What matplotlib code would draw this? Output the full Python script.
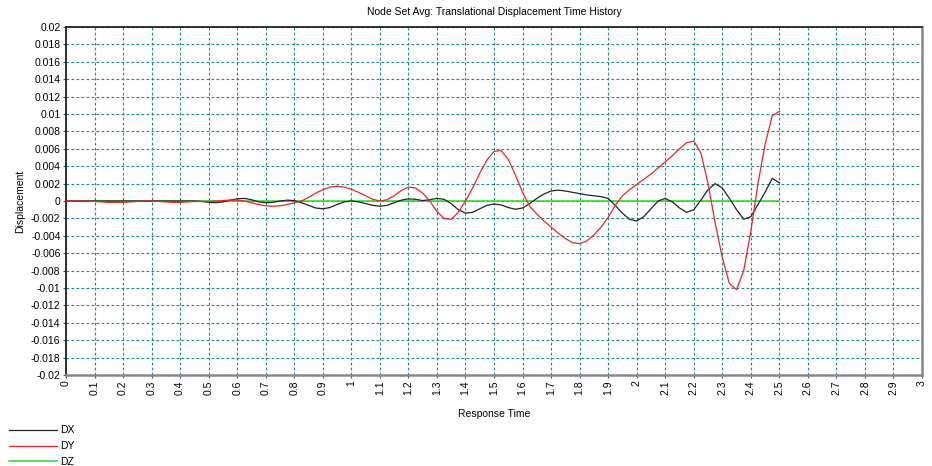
import matplotlib
matplotlib.use('Agg')
import matplotlib.pyplot as plt
import numpy as np

plt.rcParams['font.family'] = ['Liberation Sans', 'DejaVu Sans']

# time samples (s)
t = np.arange(0, 101) * 0.025

# displacement values in 1e-3 units
dx = np.array([
    0, 0, 0, 0, 0, 0, 0, 0, 0, 0,
    0, 0, 0, 0, 0, 0, 0, 0, 0, -0.05,
    -0.15, -0.2, -0.1, 0.1, 0.25, 0.3, 0.15, -0.1, -0.2, -0.15,
    0, 0.1, 0.05, -0.2, -0.5, -0.8, -0.9, -0.75, -0.4, -0.1,
    0.0, -0.1, -0.3, -0.5, -0.6, -0.5, -0.2, 0.1, 0.25, 0.2,
    0.05, 0.15, 0.3, 0.2, -0.3, -1.0, -1.4, -1.3, -0.9, -0.5,
    -0.35, -0.45, -0.75, -0.95, -0.8, -0.3, 0.3, 0.8, 1.15, 1.25,
    1.15, 1.0, 0.85, 0.7, 0.6, 0.5, 0.3, -0.5, -1.4, -2.1,
    -2.3, -1.8, -0.9, 0.0, 0.3, -0.1, -0.8, -1.3, -1.0, 0.1,
    1.3, 2.0, 1.5, 0.3, -1.0, -2.1, -1.8, -0.4, 1.0, 2.6,
    2.1]) * 1e-3

dy = np.array([
    0, 0, 0, 0, -0.05, -0.1, -0.15, -0.15, -0.15, -0.1,
    -0.05, 0, 0, -0.05, -0.1, -0.15, -0.15, -0.1, -0.05, -0.05,
    -0.05, 0, 0.05, 0.1, 0.1, 0, -0.2, -0.4, -0.55, -0.6,
    -0.55, -0.4, -0.2, 0, 0.4, 0.9, 1.3, 1.6, 1.7, 1.6,
    1.35, 1.0, 0.6, 0.2, 0.0, 0.15, 0.6, 1.2, 1.6, 1.5,
    0.9, 0.0, -1.2, -2.0, -2.1, -1.3, 0.0, 1.5, 3.2, 4.7,
    5.7, 5.8, 4.8, 3.0, 1.0, -0.6, -1.5, -2.3, -3.0, -3.7,
    -4.3, -4.8, -4.9, -4.6, -3.9, -3.0, -1.9, -0.5, 0.6, 1.3,
    1.9, 2.5, 3.1, 3.8, 4.5, 5.2, 6.0, 6.7, 6.9, 5.5,
    2.0, -2.5, -6.5, -9.5, -10.2, -8.0, -3.5, 2.0, 6.5, 9.8,
    10.3]) * 1e-3

dz = np.zeros(len(t))

xticks = np.round(np.arange(0, 3.01, 0.1), 1)
yticks = np.round(np.arange(-0.02, 0.0201, 0.002), 3)
xlabels = ['%g' % abs(v) if abs(v) < 1e-9 else '%g' % v for v in xticks]
ylabels = ['0' if abs(v) < 1e-9 else '%g' % v for v in yticks]

fig = plt.figure(figsize=(9.32, 4.66), dpi=100)
ax = fig.add_axes([0.0708, 0.1953, 0.9185, 0.7467])

grid_c = '#1a8c8c'
ax.set_axisbelow(True)
ax.grid(True, color=grid_c, linestyle=(0, (2.5, 2)), linewidth=0.8)

ax.plot(t, dz, color='#22dd22', linewidth=1.1, label='DZ', zorder=2)
ax.plot(t, dx, color='#222222', linewidth=0.9, label='DX', zorder=3)
ax.plot(t, dy, color='#ee2222', linewidth=0.9, label='DY', zorder=4)

ax.set_xlim(0, 3)
ax.set_ylim(-0.02, 0.02)
ax.set_xticks(xticks)
ax.set_xticklabels(xlabels, rotation=90, fontsize=7.5)
ax.set_yticks(yticks)
ax.set_yticklabels(ylabels, fontsize=7.5)
ax.tick_params(length=2, width=0.8, color='#3355aa', pad=2)

for side in ['left', 'top']:
    ax.spines[side].set_color('#222222')
    ax.spines[side].set_linewidth(1.3)
for side in ['right', 'bottom']:
    ax.spines[side].set_color('#888888')
    ax.spines[side].set_linewidth(1.8)

ax.set_title('Node Set Avg: Translational Displacement Time History', fontsize=7.5, pad=9)
ax.set_xlabel('Response Time', fontsize=7.5, labelpad=10)
ax.set_ylabel('Displacement', fontsize=7.5, labelpad=4)

h, l = ax.get_legend_handles_labels()
order = [1, 2, 0]
fig.legend([h[i] for i in order], [l[i] for i in order], loc='lower left',
           bbox_to_anchor=(0.0, -0.022), frameon=False, fontsize=7.5,
           handlelength=4.6, handletextpad=0.3, labelspacing=0.55)

fig.savefig('out.png', dpi=100)
